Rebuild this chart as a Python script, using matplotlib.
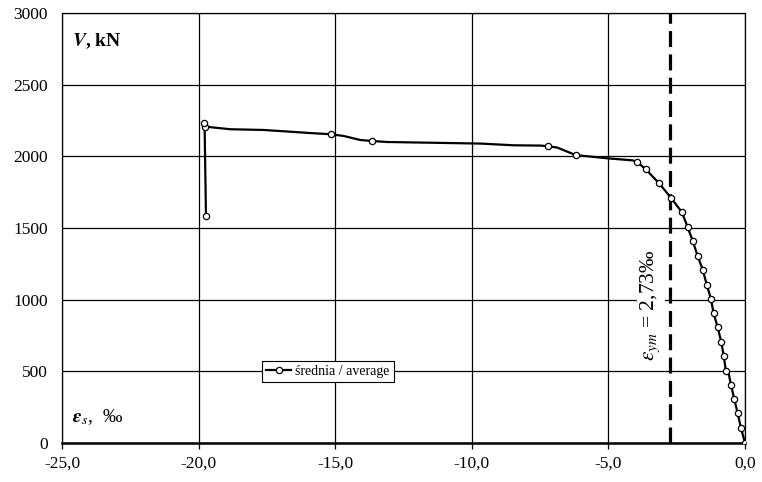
import matplotlib
matplotlib.use("Agg")
import matplotlib.pyplot as plt
import numpy as np

# odkształcenie (‰) i siła (kN)
eps_line = [0.0, -0.15, -0.27, -0.39, -0.51, -0.62, -0.70, -0.78, -0.87, -1.00,
            -1.15, -1.25, -1.40, -1.55, -1.73, -1.91, -2.10, -2.31, -2.71, -3.14,
            -3.63, -3.96, -4.12, -5.03, -6.20, -6.87, -7.20, -7.48, -8.46, -9.68,
            -10.90, -13.10, -13.65, -14.08, -14.69, -15.14, -15.79, -17.62, -18.84,
            -19.45, -19.78, -19.80, -19.78, -19.73]
V_line = [0, 107, 208, 305, 403, 505, 503, 610, 706, 806,
          907, 1007, 1105, 1210, 1303, 1408, 1506, 1610, 1711, 1811,
          1909, 1963, 1972, 1986, 2009, 2061, 2070, 2075, 2077, 2089,
          2093, 2100, 2107, 2114, 2142, 2154, 2161, 2184, 2189,
          2201, 2208, 2236, 2208, 1587]

eps_mark = [0.0, -0.15, -0.27, -0.39, -0.51, -0.70, -0.78, -0.87, -1.00, -1.15,
            -1.25, -1.40, -1.55, -1.73, -1.91, -2.10, -2.31, -2.71, -3.14, -3.63,
            -3.96, -6.20, -7.20, -13.65, -15.14, -19.78, -19.80, -19.73]
V_mark = [0, 107, 208, 305, 403, 503, 610, 706, 806, 907,
          1007, 1105, 1210, 1303, 1408, 1506, 1610, 1711, 1811, 1909,
          1963, 2009, 2070, 2107, 2154, 2208, 2236, 1587]

eps_ym = -2.73

plt.rcParams['font.family'] = ['Liberation Serif', 'DejaVu Serif']
plt.rcParams['mathtext.fontset'] = 'stix'

fig = plt.figure(figsize=(7.62, 4.82), dpi=100)
ax = fig.add_axes([62 / 762, 1 - 443 / 482, 683 / 762, 430 / 482])

ax.plot(eps_line, V_line, color='black', lw=1.6, zorder=3)
ax.plot(eps_mark, V_mark, ls='none', marker='o', ms=4.5, mfc='white', mec='black',
        mew=0.9, zorder=4)
# tylko do legendy
ax.plot([], [], color='black', lw=1.6, marker='o', ms=4.5, mfc='white', mec='black',
        mew=0.9, label='średnia / average')

ax.axvline(eps_ym, color='black', lw=2.3, dashes=(5, 2.3), zorder=2)
ax.text(-3.45, 960, r'$\varepsilon_{ym}$ = 2,73‰', rotation=90, ha='center', va='center',
        fontsize=15.5, bbox=dict(facecolor='white', edgecolor='none', pad=1.5), zorder=2.5)

ax.set_xlim(-25, 0)
ax.set_ylim(0, 3000)
ax.set_xticks(np.arange(-25, 0.1, 5))
ax.set_xticklabels(['-25,0', '-20,0', '-15,0', '-10,0', '-5,0', '0,0'])
ax.set_yticks(np.arange(0, 3001, 500))
ax.grid(True, color='black', lw=0.9)
ax.set_axisbelow(True)
ax.tick_params(axis='x', length=4, width=0.9, labelsize=12.5, pad=5)
ax.tick_params(axis='y', length=0, labelsize=12.5, pad=10)
for s in ax.spines.values():
    s.set_linewidth(0.9)
ax.spines['bottom'].set_linewidth(1.8)

ax.text(0.014, 0.935, r'$\mathbfit{V}$, kN', transform=ax.transAxes, fontsize=14,
        fontweight='bold', ha='left', va='center')
ax.text(0.014, 0.06, r'$\mathbfit{\varepsilon}_{\mathit{s}}$,  ‰', transform=ax.transAxes,
        fontsize=14, ha='left', va='center')

leg = ax.legend(loc='center left', bbox_to_anchor=(0.293, 0.167), fontsize=10,
                frameon=True, fancybox=False, framealpha=1, edgecolor='black',
                handlelength=1.8, handletextpad=0.3, borderpad=0.3, borderaxespad=0)
leg.get_frame().set_linewidth(0.8)

plt.savefig('out.png', dpi=100)
